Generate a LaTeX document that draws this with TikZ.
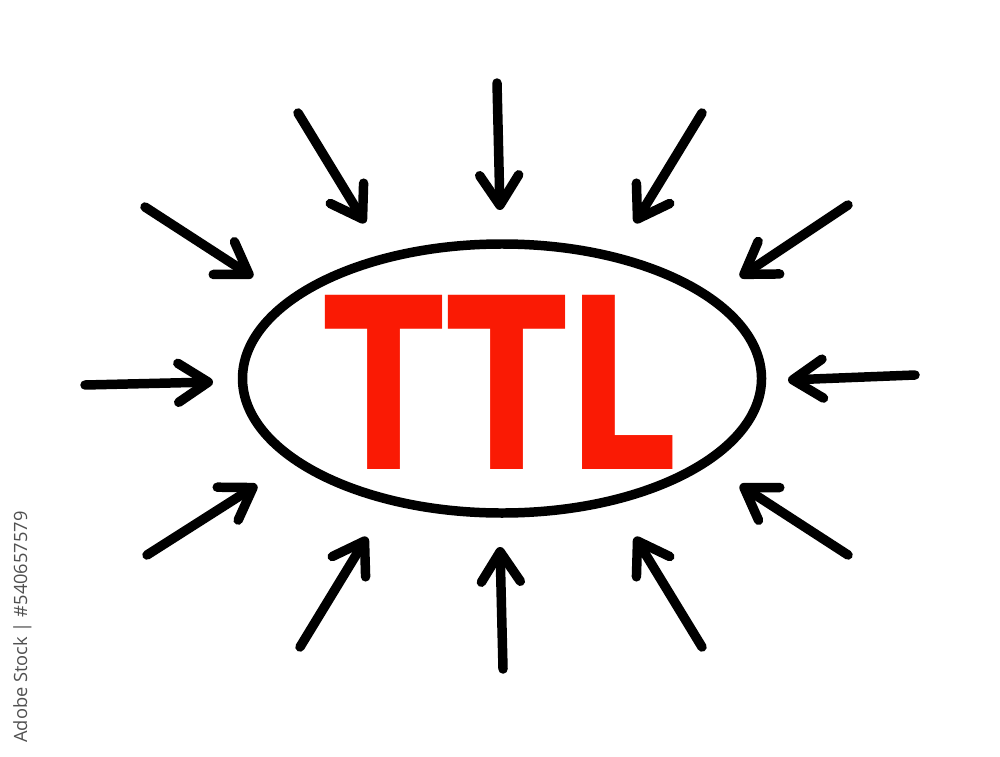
\documentclass[tikz,border=0pt]{standalone}
\usepackage{fontspec}
\setmainfont{DejaVu Sans}
\newfontfamily\markfont{Open Sans}
\usetikzlibrary{arrows.meta,shapes.geometric}

\definecolor{ttlred}{RGB}{250,26,4}
\definecolor{markgray}{RGB}{80,80,80}

\tikzset{
    arrowin/.style={line width=2.7pt, line cap=round, line join=round,
        -{Straight Barb[length=3.0mm, width=3.9mm, line cap=round, line join=round]}},
    oval/.style={draw, ellipse, line width=2.7pt, minimum width=5.19cm, minimum height=2.69cm, inner sep=0pt},
}

\begin{document}
\begin{tikzpicture}
    \useasboundingbox (0, 0) rectangle (10, 7.56);

    % Centre
    \node[oval] (ring) at (5.02, 3.775) {};
    \node[font=\fontsize{68}{68}\selectfont\bfseries, text=ttlred, inner sep=0pt, xscale=0.73] (ttl) at (5.015, 3.74) {TTL};

    % Arrow ends
    \coordinate (n0) at (4.97, 6.73);
    \coordinate (n1) at (5.00, 5.46);
    \coordinate (nw0) at (2.98, 6.43);
    \coordinate (nw1) at (3.65, 5.33);
    \coordinate (ne0) at (7.02, 6.43);
    \coordinate (ne1) at (6.35, 5.33);
    \coordinate (wnw0) at (1.45, 5.49);
    \coordinate (wnw1) at (2.53, 4.79);
    \coordinate (ene0) at (8.48, 5.51);
    \coordinate (ene1) at (7.40, 4.79);
    \coordinate (w0) at (0.85, 3.71);
    \coordinate (w1) at (2.13, 3.74);
    \coordinate (e0) at (9.15, 3.81);
    \coordinate (e1) at (7.88, 3.76);
    \coordinate (wsw0) at (1.47, 2.01);
    \coordinate (wsw1) at (2.57, 2.71);
    \coordinate (ese0) at (8.48, 2.01);
    \coordinate (ese1) at (7.40, 2.71);
    \coordinate (sw0) at (3.00, 1.09);
    \coordinate (sw1) at (3.67, 2.19);
    \coordinate (se0) at (7.02, 1.09);
    \coordinate (se1) at (6.35, 2.19);
    \coordinate (s0) at (5.03, 0.87);
    \coordinate (s1) at (5.00, 2.09);

    % Arrows pointing in
    \draw[arrowin] (n0) -- (n1);
    \draw[arrowin] (nw0) -- (nw1);
    \draw[arrowin] (ne0) -- (ne1);
    \draw[arrowin] (wnw0) -- (wnw1);
    \draw[arrowin] (ene0) -- (ene1);
    \draw[arrowin] (w0) -- (w1);
    \draw[arrowin] (e0) -- (e1);
    \draw[arrowin] (wsw0) -- (wsw1);
    \draw[arrowin] (ese0) -- (ese1);
    \draw[arrowin] (sw0) -- (sw1);
    \draw[arrowin] (se0) -- (se1);
    \draw[arrowin] (s0) -- (s1);

    % Stock mark
    \node[font=\markfont\fontsize{5.2}{6}\selectfont, text=markgray, rotate=90, inner sep=0pt] (mark) at (0.225, 1.29) {Adobe Stock | \#540657579};
\end{tikzpicture}
\end{document}
